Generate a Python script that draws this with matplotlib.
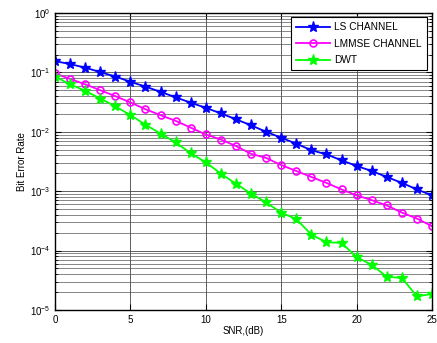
import numpy as np
import matplotlib
matplotlib.use("Agg")
import matplotlib.pyplot as plt

plt.rcParams['font.family'] = ['Liberation Sans', 'DejaVu Sans']

snr = list(range(0, 26))
ls_log = [-0.81, -0.86, -0.92, -0.995, -1.07, -1.158, -1.24, -1.327, -1.42, -1.51,
          -1.597, -1.69, -1.79, -1.89, -2.0, -2.1, -2.2, -2.31, -2.38, -2.48,
          -2.575, -2.66, -2.76, -2.86, -2.97, -3.07]
lmmse_log = [-1.017, -1.11, -1.20, -1.30, -1.40, -1.506, -1.62, -1.72, -1.816, -1.93,
             -2.045, -2.13, -2.24, -2.37, -2.44, -2.56, -2.66, -2.76, -2.86, -2.97,
             -3.07, -3.15, -3.24, -3.36, -3.46, -3.59]
dwt_log = [-1.07, -1.20, -1.31, -1.44, -1.57, -1.72, -1.88, -2.03, -2.18, -2.36,
           -2.515, -2.705, -2.875, -3.04, -3.19, -3.36, -3.47, -3.73, -3.86, -3.87,
           -4.11, -4.24, -4.44, -4.46, -4.77, -4.73]
ls = [10 ** v for v in ls_log]
lmmse = [10 ** v for v in lmmse_log]
dwt = [10 ** v for v in dwt_log]

fig = plt.figure(figsize=(4.37, 3.43), dpi=100)
ax = fig.add_axes([55/437, 1-310/343, (432-55)/437, (310-13)/343])

ax.semilogy(snr, ls, '-*', color='#0000ff', lw=1.3, ms=8, label='LS CHANNEL')
ax.semilogy(snr, lmmse, '-o', color='#ff00ff', lw=1.3, ms=5, mfc='none', mew=1.2, label='LMMSE CHANNEL')
ax.semilogy(snr, dwt, '-*', color='#00ff00', lw=1.3, ms=8, label='DWT')

ax.set_xlim(0, 25)
ax.set_ylim(1e-5, 1)
ax.set_xticks([0, 5, 10, 15, 20, 25])
ax.grid(True, which='major', color='#444444', lw=0.6)
ax.grid(True, which='minor', axis='y', color='#555555', lw=0.5)
ax.tick_params(which='both', direction='in', labelsize=7, top=True, right=True)
ax.tick_params(which='major', length=4)
ax.tick_params(which='minor', length=2)
for s in ax.spines.values():
    s.set_linewidth(1.0)
ax.set_xlabel('SNR,(dB)', fontsize=7, labelpad=1)
ax.set_ylabel('Bit Error Rate', fontsize=7, labelpad=2)

leg = ax.legend(loc='upper right', fontsize=7.3, fancybox=False, framealpha=1,
                edgecolor='black', bbox_to_anchor=(1 - 5/377, 1 - 4/297),
                borderaxespad=0, handlelength=3.4, handletextpad=0.4,
                borderpad=0.5, labelspacing=0.65)
leg.get_frame().set_linewidth(0.8)

fig.savefig('out.png', dpi=100)
